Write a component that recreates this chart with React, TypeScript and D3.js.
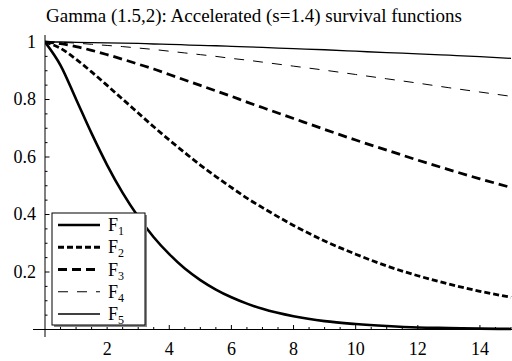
import { useEffect, useRef } from 'react';
import * as d3 from 'd3';

const width = 512;
const height = 361;
const serif = "'Liberation Serif', 'Times New Roman', 'DejaVu Serif', serif";

// time grid shared by every curve
const tValues = [0, 0.5, 1, 1.5, 2, 2.5, 3, 3.5, 4, 4.5, 5, 5.5, 6, 6.5, 7, 8, 9, 10, 11, 12, 13, 14, 15];

// survival values
const f1 = [1, 0.919, 0.801, 0.682, 0.572, 0.475, 0.392, 0.321, 0.262, 0.212, 0.172, 0.139, 0.112, 0.09, 0.072, 0.046, 0.029, 0.019, 0.012, 0.007, 0.005, 0.003, 0.002];
const f2 = [1, 0.978, 0.94, 0.896, 0.849, 0.801, 0.753, 0.705, 0.659, 0.615, 0.572, 0.532, 0.494, 0.457, 0.424, 0.362, 0.308, 0.262, 0.221, 0.187, 0.158, 0.133, 0.112];
const f3 = [1, 0.994, 0.984, 0.971, 0.956, 0.94, 0.923, 0.906, 0.887, 0.868, 0.849, 0.83, 0.811, 0.791, 0.772, 0.734, 0.696, 0.659, 0.624, 0.589, 0.556, 0.524, 0.494];
const f4 = [1, 0.999, 0.996, 0.992, 0.988, 0.984, 0.979, 0.974, 0.968, 0.962, 0.956, 0.95, 0.943, 0.937, 0.93, 0.916, 0.902, 0.887, 0.872, 0.857, 0.841, 0.826, 0.811];
const f5 = [1, 1, 0.999, 0.998, 0.997, 0.996, 0.995, 0.993, 0.992, 0.99, 0.988, 0.987, 0.985, 0.983, 0.981, 0.977, 0.973, 0.968, 0.963, 0.959, 0.954, 0.949, 0.943];

const seriesNames = ['1', '2', '3', '4', '5'];
const seriesValues = [f1, f2, f3, f4, f5];

const xTicks = [2, 4, 6, 8, 10, 12, 14];
const yTicks = [0.2, 0.4, 0.6, 0.8, 1];

const styles = [
    { w: 2.6, dash: null },
    { w: 2.8, dash: '6,3' },
    { w: 2.8, dash: '9,5' },
    { w: 1, dash: '10,9' },
    { w: 1.3, dash: null }
];

export default function App() {
    const ref = useRef<SVGSVGElement | null>(null);

    useEffect(() => {
        const svg = d3.select(ref.current);
        svg.selectAll('*').remove();

        const x = d3.scaleLinear().domain([0, 15]).range([45, 511]);
        const y = d3.scaleLinear().domain([0, 1]).range([329.5, 42]);

        svg.append('rect').attr('width', width).attr('height', height).attr('fill', '#fff');

        svg.append('defs')
            .append('clipPath')
            .attr('id', 'plot-clip')
            .append('rect')
            .attr('x', x(0))
            .attr('y', 0)
            .attr('width', width - x(0))
            .attr('height', height);

        // title
        svg.append('text')
            .attr('x', 46)
            .attr('y', 22)
            .attr('textLength', 416)
            .attr('lengthAdjust', 'spacingAndGlyphs')
            .style('font-family', serif)
            .style('font-size', '18px')
            .text('Gamma (1.5,2): Accelerated (s=1.4) survival functions');

        // axes
        const axes = svg.append('g').attr('stroke', '#000').attr('stroke-width', 1);
        axes.append('line').attr('x1', 33).attr('x2', 512).attr('y1', y(0)).attr('y2', y(0));
        axes.append('line').attr('x1', x(0)).attr('x2', x(0)).attr('y1', 35).attr('y2', 337);

        const xMinor = d3.range(0.5, 15.01, 0.5);
        axes.selectAll('.xt')
            .data(xMinor)
            .join('line')
            .attr('x1', (d) => x(d))
            .attr('x2', (d) => x(d))
            .attr('y1', y(0))
            .attr('y2', (d) => y(0) - (d % 2 === 0 ? 4.5 : 2.5));

        const yMinor = d3.range(0.05, 1.001, 0.05);
        axes.selectAll('.yt')
            .data(yMinor)
            .join('line')
            .attr('x1', x(0))
            .attr('x2', (d) => x(0) + (Math.abs(d * 5 - Math.round(d * 5)) < 1e-6 ? 4.5 : 2.5))
            .attr('y1', (d) => y(d))
            .attr('y2', (d) => y(d));

        const labels = svg.append('g').style('font-family', serif).style('font-size', '18px');
        labels.selectAll('.xl')
            .data(xTicks)
            .join('text')
            .attr('x', (d) => x(d))
            .attr('y', 355)
            .attr('text-anchor', 'middle')
            .text((d) => d);
        labels.selectAll('.yl')
            .data(yTicks)
            .join('text')
            .attr('x', 36)
            .attr('y', (d) => y(d) + 5.5)
            .attr('text-anchor', 'end')
            .text((d) => (d === 1 ? '1' : d.toString()));

        // curves
        const line = d3
            .line<number>()
            .x((_, i) => x(tValues[i]))
            .y((d) => y(d))
            .curve(d3.curveMonotoneX);

        const curves = svg.append('g').attr('clip-path', 'url(#plot-clip)');
        seriesValues.forEach((vals, k) => {
            curves
                .append('path')
                .attr('d', line(vals))
                .attr('fill', 'none')
                .attr('stroke', '#000')
                .attr('stroke-width', styles[k].w)
                .attr('stroke-dasharray', styles[k].dash);
        });

        // legend
        const lg = svg.append('g');
        lg.append('rect').attr('x', 54).attr('y', 215).attr('width', 93).attr('height', 112).attr('fill', '#888');
        lg.append('rect')
            .attr('x', 52)
            .attr('y', 213)
            .attr('width', 93)
            .attr('height', 112)
            .attr('fill', '#fff')
            .attr('stroke', '#000')
            .attr('stroke-width', 1);

        const rowY = d3.scalePoint<string>().domain(seriesNames).range([225, 314]);
        seriesNames.forEach((name, k) => {
            const yy = rowY(name) as number;
            lg.append('line')
                .attr('x1', 58)
                .attr('x2', 100)
                .attr('y1', yy)
                .attr('y2', yy)
                .attr('stroke', '#000')
                .attr('stroke-width', styles[k].w)
                .attr('stroke-dasharray', styles[k].dash);
            const t = lg
                .append('text')
                .attr('x', 108)
                .attr('y', yy + 6)
                .style('font-family', serif)
                .style('font-size', '18px');
            t.append('tspan').text('F');
            t.append('tspan').style('font-size', '12px').attr('dy', 4).text(name);
        });
    }, []);

    return (
        <svg
            ref={ref}
            width={width}
            height={height}
            style={{ position: 'absolute', left: 0, top: 0, background: '#fff' }}
        />
    );
}
